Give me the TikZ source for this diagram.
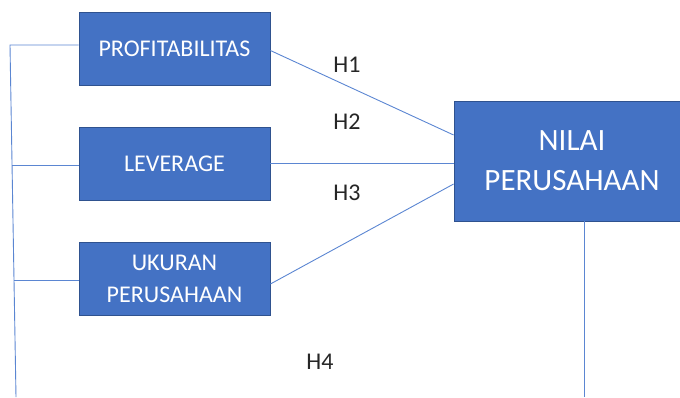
\documentclass[tikz,border=0pt]{standalone}
\usepackage{fontspec}
\setmainfont{Carlito}
\usepackage{xcolor}
\usetikzlibrary{positioning, calc}

\definecolor{boxblue}{HTML}{4472C4}
\definecolor{boxedge}{HTML}{2F528F}
\definecolor{linkblue}{HTML}{5B86D2}
\definecolor{hypo}{HTML}{262626}

\begin{document}
\begin{tikzpicture}[
    x=1pt, y=-1pt,
    var/.style={draw=boxedge, line width=0.8pt, fill=boxblue, text=white, align=center,
        inner sep=0pt, font=\fontsize{24}{32}\selectfont},
    smallvar/.style={var, minimum width=191pt, minimum height=73pt},
    bigvar/.style={var, minimum width=236pt, minimum height=120pt, font=\fontsize{31}{40}\selectfont},
    link/.style={draw=linkblue, line width=0.9pt},
    hlabel/.style={text=hypo, font=\fontsize{24}{28}\selectfont, inner sep=0pt}
]
    \useasboundingbox (0,0) rectangle (680,397);
    \clip (0,0) rectangle (680,397);

    % Independent variables
    \node[smallvar] (profit) at (174.5, 48.5) {PROFITABILITAS};
    \node[smallvar] (lev) at (174.5, 163.5) {LEVERAGE};
    \node[smallvar] (size) at (174.5, 278.5) {UKURAN\\PERUSAHAAN};

    % Dependent variable
    \node[bigvar] (nilai) at (572, 161) {NILAI\\PERUSAHAAN};

    % Left bracket line
    \coordinate (ltop) at (10, 45);
    \coordinate (lbot) at (16, 397);
    \coordinate (jlev) at (12, 165.5);
    \coordinate (jsize) at (14, 280);
    \draw[link] (lbot) -- (ltop) -- (ltop -| profit.west);
    \draw[link] (jlev) -- (jlev -| lev.west);
    \draw[link] (jsize) -- (jsize -| size.west);

    % Hypotheses
    \draw[link] ($(profit.east)+(0,2)$) -- ($(nilai.west)+(0,-26)$);
    \draw[link] (lev.east) -- (lev.east -| nilai.west);
    \draw[link] ($(size.east)+(0,5.5)$) -- ($(nilai.west)+(0,23)$);
    \coordinate (nbot) at (584, 397);
    \draw[link] (nilai.south -| nbot) -- (nbot);

    \node[hlabel] (h1) at (347, 65) {H1};
    \node[hlabel] (h2) at (347, 122) {H2};
    \node[hlabel] (h3) at (347, 193) {H3};
    \node[hlabel] (h4) at (320, 362) {H4};

\end{tikzpicture}
\end{document}
